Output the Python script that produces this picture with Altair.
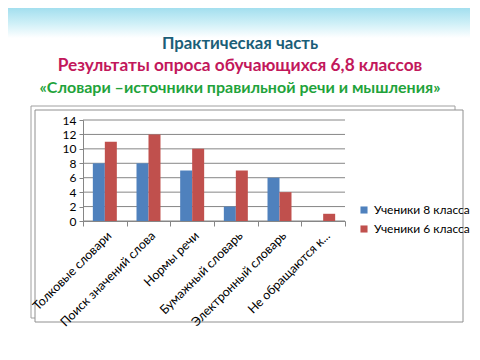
import altair as alt
import pandas as pd

categories = ["Толковые словари", "Поиск значений слова", "Нормы речи",
              "Бумажный словарь", "Электронный словарь", "Не обращаются к..."]
series = ["Ученики 8 класса", "Ученики 6 класса"]
values_8 = [8, 8, 7, 2, 6, 0]
values_6 = [11, 12, 10, 7, 4, 1]
colors = ["#4F81BD", "#C0504D"]
titles = ["Практическая часть",
          "Результаты опроса обучающихся 6,8 классов",
          "«Словари –источники правильной  речи и мышления»"]
y_ticks = [0, 2, 4, 6, 8, 10, 12, 14]

rows = []
for c, a, b in zip(categories, values_8, values_6):
    rows.append({"cat": c, "series": series[0], "value": a})
    rows.append({"cat": c, "series": series[1], "value": b})
df = pd.DataFrame(rows)

FONT = "Lato"
GRAY = "#868686"

y_axis = alt.Axis(values=y_ticks, tickSize=4, tickColor=GRAY,
                  domainColor=GRAY, grid=False,
                  labelFont=FONT, labelFontSize=12, labelColor="#000000",
                  labelPadding=3, zindex=1)
y_scale = alt.Scale(domain=[0, 14], nice=False)

bg = alt.Chart(pd.DataFrame({"k": [0]})).mark_rect(
    fill=alt.Gradient(gradient="linear", x1=0, x2=0, y1=0, y2=1,
                      stops=[alt.GradientStop(color="#8CD6EA", offset=0),
                             alt.GradientStop(color="#CDEFF7", offset=0.6),
                             alt.GradientStop(color="#FFFFFF", offset=1)])
).encode(x=alt.value(-83), x2=alt.value(400), y=alt.value(-120), y2=alt.value(-82))

frame_back = alt.Chart(pd.DataFrame({"k": [0]})).mark_rect(
    fill="white", stroke="#A0A0A0", strokeWidth=1
).encode(x=alt.value(-52), x2=alt.value(372), y=alt.value(-14), y2=alt.value(198))

frame = alt.Chart(pd.DataFrame({"k": [0]})).mark_rect(
    fill="white", stroke="#909090", strokeWidth=1
).encode(x=alt.value(-48), x2=alt.value(380), y=alt.value(-10), y2=alt.value(202))

grid = alt.Chart(pd.DataFrame({"value": y_ticks})).mark_rule(color=GRAY, strokeWidth=1).encode(
    y=alt.Y("value:Q", title=None, axis=y_axis, scale=y_scale),
    x=alt.value(0), x2=alt.value(262),
)

bars = alt.Chart(df).mark_bar().encode(
    x=alt.X("cat:N", sort=categories, title=None,
            scale=alt.Scale(paddingInner=0, paddingOuter=0),
            axis=alt.Axis(labelAngle=-45, labelAlign="right", labelBaseline="top",
                          tickBand="extent", tickSize=5, tickColor=GRAY,
                          domainColor=GRAY, labelFont=FONT, labelFontSize=12.5,
                          labelColor="#000000", labelPadding=3, labelLimit=200,
                          labelOverlap=False, grid=False, zindex=1)),
    xOffset=alt.XOffset("series:N", sort=series,
                        scale=alt.Scale(paddingOuter=0.82, paddingInner=0)),
    y=alt.Y("value:Q", title=None, scale=y_scale, axis=y_axis),
    color=alt.Color("series:N", sort=series,
                    scale=alt.Scale(domain=series, range=colors),
                    legend=alt.Legend(title=None, orient="none", legendX=275, legendY=84,
                                      symbolType="square", symbolSize=50,
                                      symbolStrokeWidth=0, rowPadding=7,
                                      labelFont=FONT, labelFontSize=12,
                                      labelColor="#000000", zindex=1)),
)

t1 = alt.Chart(pd.DataFrame({"t": [titles[0]]})).mark_text(
    font=FONT, fontSize=16.8, fontWeight="bold", color="#1B5E78", align="center",
    baseline="middle").encode(text="t:N", x=alt.value(157), y=alt.value(-76))
t2 = alt.Chart(pd.DataFrame({"t": [titles[1]]})).mark_text(
    font=FONT, fontSize=17.3, fontWeight="bold", color="#C2185B", align="center",
    baseline="middle").encode(text="t:N", x=alt.value(157), y=alt.value(-54))
t3 = alt.Chart(pd.DataFrame({"t": [titles[2]]})).mark_text(
    font=FONT, fontSize=16, fontWeight="bold", color="#1FA33B", align="center",
    baseline="middle").encode(text="t:N", x=alt.value(157), y=alt.value(-32))

chart = alt.layer(bg, frame_back, frame, grid, bars, t1, t2, t3).properties(
    width=262, height=101,
    autosize=alt.AutoSizeParams(type="none"),
    padding={"left": 75, "top": 112, "right": 125, "bottom": 125},
    background="white",
).configure_view(stroke=None)

chart.save("out.html", embed_options={"renderer": "svg", "actions": False})
